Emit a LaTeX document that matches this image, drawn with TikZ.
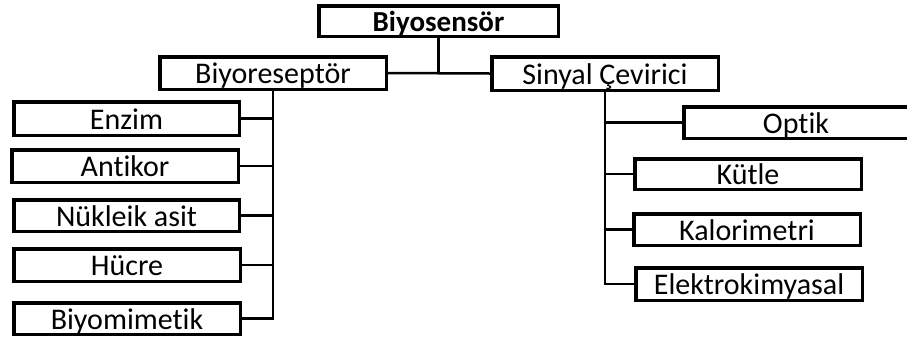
\documentclass[tikz,border=0pt]{standalone}
\usepackage{fontspec}
\setmainfont[Ligatures=NoCommon]{Carlito}

\begin{document}
\begin{tikzpicture}[x=1pt,y=-1pt,
		kutu/.style={draw,line width=3.5pt,inner sep=0pt,minimum width=226.5pt,
			text height=21pt,text depth=0pt,font=\fontsize{30}{34}\selectfont},
		bag/.style={line width=2.5pt}]
				\useasboundingbox (0,0) rectangle (907,341);

				% ust kisim
				\node[kutu,minimum width=239.5pt,minimum height=30.5pt,font=\fontsize{29}{34}\selectfont\bfseries]
					(sensor) at (438.5,21) {Biyosensör};
				\node[kutu,minimum height=32.5pt] (recep) at (273,73) {Biyoreseptör};
				\node[kutu,minimum height=33.5pt] (signal) at (605,73.5) {Sinyal Çevirici};

				% biyoreseptor dallari
				\node[kutu,minimum width=225.5pt,minimum height=33.5pt] (enzim) at (126.5,118.5) {Enzim};
				\node[kutu,minimum height=32.5pt] (antikor) at (125,166) {Antikor};
				\node[kutu,minimum width=225.5pt,minimum height=31.5pt] (nukleik) at (126.5,215.5) {Nükleik asit};
				\node[kutu,minimum height=32.5pt] (hucre) at (127,265) {Hücre};
				\node[kutu,minimum height=31.5pt] (biyomim) at (127,318.5) {Biyomimetik};

				% sinyal cevirici dallari
				\node[kutu,minimum width=224.5pt,minimum height=31.5pt] (optik) at (796,122.5) {Optik};
				\node[kutu,minimum height=30.5pt] (kutle) at (748,174) {Kütle};
				\node[kutu,minimum height=31.5pt] (kalori) at (747,229.5) {Kalorimetri};
				\node[kutu,minimum height=32.5pt] (elektro) at (749,284) {Elektrokimyasal};

				\draw[bag] (recep.east) -- (signal.west);
				\draw[bag] (sensor.south) -- (sensor.south |- recep.east);

				\draw[bag] (recep.south) |- (biyomim.east);
				\foreach \n in {enzim,antikor,nukleik,hucre}
					\draw[bag] (\n.east) -- (\n.east -| recep.south);

				\draw[bag] (signal.south) |- (elektro.west);
				\foreach \n in {optik,kutle,kalori}
					\draw[bag] (\n.west) -- (\n.west -| signal.south);
\end{tikzpicture}
\end{document}
